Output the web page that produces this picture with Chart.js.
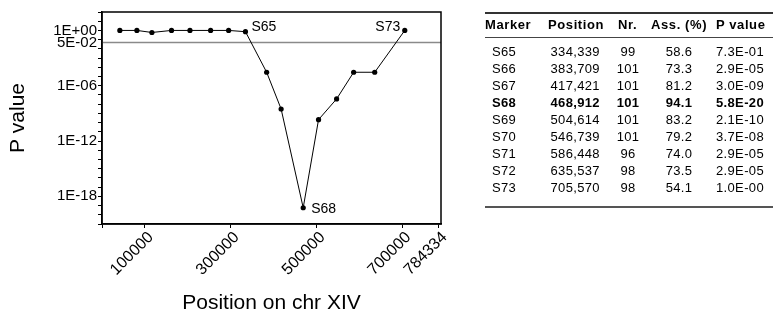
<!DOCTYPE html>
<html><head><meta charset="utf-8">
<script src="https://cdn.jsdelivr.net/npm/chart.js@4"></script>
<style>
html,body{margin:0;padding:0;background:#fff;width:773px;height:314px;overflow:hidden;}
#wrap{position:absolute;left:0;top:0;width:470px;height:314px;}
#tbl{position:absolute;left:0;top:0;width:773px;height:314px;font-family:"Liberation Sans",Arial,sans-serif;color:#000;overflow:hidden;}
.c{position:absolute;font-size:13px;line-height:13px;white-space:nowrap;letter-spacing:0.35px;}
.h{font-weight:bold;letter-spacing:0.6px;}
.b{font-weight:bold;}
.rule{position:absolute;left:485px;width:300px;}
</style></head>
<body>
<div id="wrap"><canvas id="c"></canvas></div>
<div id="tbl"></div>
<script>
// ---- plotted markers before S65 ----
const earlyPositions = [41600, 81300, 116300, 162000, 205000, 253100, 295100];
const earlyPValues = [1.0, 1.0, 0.6, 1.0, 1.0, 1.0, 1.0];

// ---- table data ----
const tableHeaders = ['Marker', 'Position', 'Nr.', 'Ass. (%)', 'P value'];
const tableMarkers = ['S65', 'S66', 'S67', 'S68', 'S69', 'S70', 'S71', 'S72', 'S73'];
const tablePositions = ['334,339', '383,709', '417,421', '468,912', '504,614', '546,739', '586,448', '635,537', '705,570'];
const tableNr = ['99', '101', '101', '101', '101', '101', '96', '98', '98'];
const tableAss = ['58.6', '73.3', '81.2', '94.1', '83.2', '79.2', '74.0', '73.5', '54.1'];
const tablePValues = ['7.3E-01', '2.9E-05', '3.0E-09', '5.8E-20', '2.1E-10', '3.7E-08', '2.9E-05', '2.9E-05', '1.0E-00'];
const boldMarker = 'S68';

// ---- axis / annotation data ----
const threshold = 0.05;
const xTickValues = [0, 100000, 300000, 500000, 700000, 784334];
const xTickLabels = ['', '100000', '300000', '500000', '700000', '784334'];
const yLabelValues = [1, 0.05, 1e-6, 1e-12, 1e-18];
const yLabelTexts = ['1E+00', '5E-02', '1E-06', '1E-12', '1E-18'];
const labelNames = ['S65', 'S68', 'S73'];
const xMin = 0, xMax = 790000, yMin = 1e-21, yMax = 1e2;

// combined plotted series
const positions = earlyPositions.concat(tablePositions.map(s => parseFloat(s.replace(/,/g, ''))));
const pValues = earlyPValues.concat(tablePValues.map(s => parseFloat(s)));

const labelStyle = {
  S65: {align: 'left', dx: 6, dy: -0.5},
  S68: {align: 'left', dx: 8, dy: 5},
  S73: {align: 'right', dx: -4.5, dy: 0.7}
};

const FONT = "'Liberation Sans', Arial, sans-serif";

const boxPlugin = {
  id: 'box',
  afterDraw(chart) {
    const {ctx, chartArea: a} = chart;
    ctx.save();
    ctx.strokeStyle = '#000';
    ctx.lineWidth = 1.5;
    ctx.strokeRect(a.left, a.top, a.right - a.left, a.bottom - a.top);
    ctx.restore();
  }
};
const labelPlugin = {
  id: 'ptLabels',
  afterDatasetsDraw(chart) {
    const {ctx} = chart;
    const meta = chart.getDatasetMeta(0);
    ctx.save();
    ctx.font = '14px ' + FONT;
    ctx.fillStyle = '#000';
    ctx.textBaseline = 'alphabetic';
    labelNames.forEach(name => {
      const idx = earlyPositions.length + tableMarkers.indexOf(name);
      const p = meta.data[idx];
      const st = labelStyle[name];
      ctx.textAlign = st.align;
      ctx.fillText(name, p.x + st.dx, p.y + st.dy);
    });
    ctx.restore();
  }
};

function sameVal(a, b) { return Math.abs(Math.log10(a) - Math.log10(b)) < 1e-6; }

new Chart(document.getElementById('c'), {
  type: 'line',
  data: {
    datasets: [
      {
        data: positions.map((x, i) => ({x: x, y: pValues[i]})),
        borderColor: '#000', borderWidth: 1, tension: 0,
        pointRadius: 2.6, pointBackgroundColor: '#000', pointBorderWidth: 0
      },
      {
        data: [{x: xMin, y: threshold}, {x: xMax, y: threshold}],
        borderColor: '#8a8a8a', borderWidth: 1.5, pointRadius: 0
      }
    ]
  },
  options: {
    responsive: true, maintainAspectRatio: false, animation: false,
    layout: {padding: {top: 12, right: 29, left: 0, bottom: 0}},
    plugins: {legend: {display: false}, tooltip: {enabled: false}},
    scales: {
      x: {
        type: 'linear', min: xMin, max: xMax,
        afterBuildTicks(s) { s.ticks = xTickValues.map(v => ({value: v})); },
        afterFit(s) { s.height = 90; },
        ticks: {
          autoSkip: false, minRotation: 45, maxRotation: 45, padding: 0, labelOffset: 6, color: '#000',
          font: {family: FONT, size: 16},
          callback(v) { const i = xTickValues.indexOf(v); return i >= 0 ? xTickLabels[i] : ''; }
        },
        grid: {drawOnChartArea: false, drawTicks: true, tickLength: 4, color: '#000', lineWidth: 1},
        border: {color: '#000', width: 1.5},
        title: {display: true, text: 'Position on chr XIV', color: '#000',
                font: {family: FONT, size: 21, lineHeight: 1}, padding: {top: 0, bottom: 0}}
      },
      y: {
        type: 'logarithmic', min: yMin, max: yMax,
        afterBuildTicks(s) {
          const t = [];
          for (let e = 2; e >= -21; e--) t.push({value: parseFloat('1e' + e)});
          t.push({value: threshold});
          s.ticks = t;
        },
        afterFit(s) { s.width = 102; },
        ticks: {
          autoSkip: false, padding: 1, color: '#000', font: {family: FONT, size: 15},
          callback(v) {
            for (let i = 0; i < yLabelValues.length; i++) if (sameVal(v, yLabelValues[i])) return yLabelTexts[i];
            return '';
          }
        },
        grid: {drawOnChartArea: false, drawTicks: true, tickLength: 4, lineWidth: 1,
               color: c => (c.tick && sameVal(c.tick.value, threshold)) ? 'rgba(0,0,0,0)' : '#000'},
        border: {color: '#000', width: 1.5},
        title: {display: true, text: 'P value', color: '#000',
                font: {family: FONT, size: 21, lineHeight: 1}, padding: {top: 8, bottom: 0}}
      }
    }
  },
  plugins: [boxPlugin, labelPlugin]
});

// ---- table ----
const tbl = document.getElementById('tbl');
function addRule(top, h, color) {
  const d = document.createElement('div');
  d.className = 'rule';
  d.style.top = top + 'px'; d.style.height = h + 'px'; d.style.background = color;
  tbl.appendChild(d);
}
function addCell(text, x, top, mode, cls) {
  const d = document.createElement('div');
  d.className = 'c ' + (cls || '');
  d.textContent = text;
  d.style.top = top + 'px';
  if (mode === 'center') { d.style.left = (x - 50) + 'px'; d.style.width = '100px'; d.style.textAlign = 'center'; }
  else d.style.left = x + 'px';
  tbl.appendChild(d);
}
addRule(11.5, 2, '#333');
addRule(37, 1, '#444');
addRule(206, 2, '#555');
const headerX = [485, 548, 618, 651, 716];
headerX.forEach((x, i) => addCell(tableHeaders[i], x, 18, 'left', 'h'));
const cols = [tableMarkers, tablePositions, tableNr, tableAss, tablePValues];
const colAnchor = [[504, 'center'], [550.5, 'left'], [628, 'center'], [679, 'center'], [716, 'left']];
tableMarkers.forEach((m, r) => {
  const top = 45 + r * 16.96;
  cols.forEach((col, c) => addCell(col[r], colAnchor[c][0], top, colAnchor[c][1], m === boldMarker ? 'b' : ''));
});
</script>
</body></html>
